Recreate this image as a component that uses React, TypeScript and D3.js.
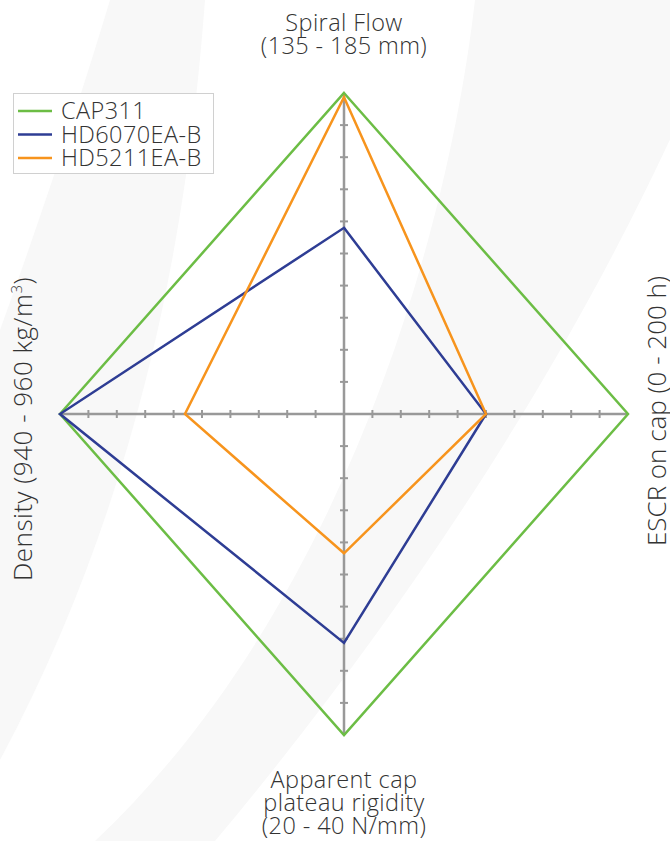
import React from "react";
import * as d3 from "d3";

const axes = ["Spiral Flow", "ESCR on cap", "Apparent cap plateau rigidity", "Density"];
const seriesNames = ["CAP311", "HD6070EA-B", "HD5211EA-B"];
const seriesColors = ["#6cbd45", "#2e3d94", "#f7941d"];
// values on 0-10 normalised scale, order: top, right, bottom, left
const cap311 = [10, 10, 10, 10];
const hd6070 = [5.8, 5.0, 7.13, 10];
const hd5211 = [9.87, 5.0, 4.34, 5.6];
const seriesValues = [cap311, hd6070, hd5211];
const tickValues = [1, 2, 3, 4, 5, 6, 7, 8, 9];

const W = 670, H = 841;
const cx = 344, cy = 414;
const rV = d3.scaleLinear().domain([0, 10]).range([0, 321]);
const rH = d3.scaleLinear().domain([0, 10]).range([0, 284]);

// direction of each axis: top, right, bottom, left
const dirs = [[0, -1], [1, 0], [0, 1], [-1, 0]];
const pt = (i: number, v: number): [number, number] => {
  const [dx, dy] = dirs[i];
  return [cx + dx * rH(v), cy + dy * rV(v)];
};

const FONT = "'Open Sans', 'DejaVu Sans', sans-serif";

export default function App() {
  const line = d3.line().curve(d3.curveLinearClosed);
  return (
    <svg width={W} height={H} style={{ position: "absolute", left: 0, top: 0, background: "#fff" }}>
      {/* faint background swooshes */}
      <path d="M475,0 C445,260 330,620 95,841 L215,841 C400,620 600,330 730,0 Z" fill="#f8f8f8" />
      <path d="M205,0 C190,200 150,480 0,760 L0,330 C40,220 80,100 110,0 Z" fill="#f8f8f8" />

      {/* axes */}
      <g stroke="#999" strokeWidth={2.5}>
        <line x1={cx} y1={pt(0, 10)[1]} x2={cx} y2={pt(2, 10)[1]} />
        <line x1={pt(3, 10)[0]} y1={cy} x2={pt(1, 10)[0]} y2={cy} />
      </g>
      <g stroke="#999" strokeWidth={2}>
        {[0, 1, 2, 3].map((i) =>
          tickValues.map((t) => {
            const [x, y] = pt(i, t);
            return i % 2 === 0 ? (
              <line key={`${i}-${t}`} x1={x - 4} x2={x + 4} y1={y} y2={y} />
            ) : (
              <line key={`${i}-${t}`} x1={x} x2={x} y1={y - 4} y2={y + 4} />
            );
          })
        )}
      </g>

      {/* series */}
      {seriesValues.map((vals, s) => (
        <path
          key={seriesNames[s]}
          d={line(vals.map((v, i) => pt(i, v))) || ""}
          fill="none"
          stroke={seriesColors[s]}
          strokeWidth={2.5}
          strokeLinejoin="miter"
        />
      ))}

      {/* axis labels */}
      <g fontFamily={FONT} fontWeight={300} fontSize={23.5} fill="#333" textAnchor="middle" letterSpacing={0.4}>
        <text x={cx} y={31}>Spiral Flow</text>
        <text x={cx} y={54}>(135 - 185 mm)</text>
        <text x={cx} y={788}>Apparent cap</text>
        <text x={cx} y={811}>plateau rigidity</text>
        <text x={cx} y={834}>(20 - 40 N/mm)</text>
      </g>
      <g fontFamily={FONT} fontWeight={300} fontSize={26} fill="#333" textAnchor="middle">
        <text transform={`translate(32,429) rotate(-90)`} letterSpacing={0.5}>
          Density (940 - 960 kg/m<tspan dy={-10} fontSize={15}>3</tspan><tspan dy={10}>)</tspan>
        </text>
        <text transform={`translate(666,411) rotate(-90)`}>ESCR on cap (0 - 200 h)</text>
      </g>

      {/* legend */}
      <g>
        <rect x={13.5} y={93.5} width={200} height={80} fill="#fff" stroke="#d0d0d0" strokeWidth={1} />
        {seriesNames.map((n, s) => (
          <g key={n} transform={`translate(0,${111 + s * 23.5})`}>
            <line x1={18} x2={52} y1={0} y2={0} stroke={seriesColors[s]} strokeWidth={2.5} />
            <text x={61} y={8} fontFamily={FONT} fontWeight={300} fontSize={23.5} letterSpacing={0.4} fill="#333">{n}</text>
          </g>
        ))}
      </g>
    </svg>
  );
}
